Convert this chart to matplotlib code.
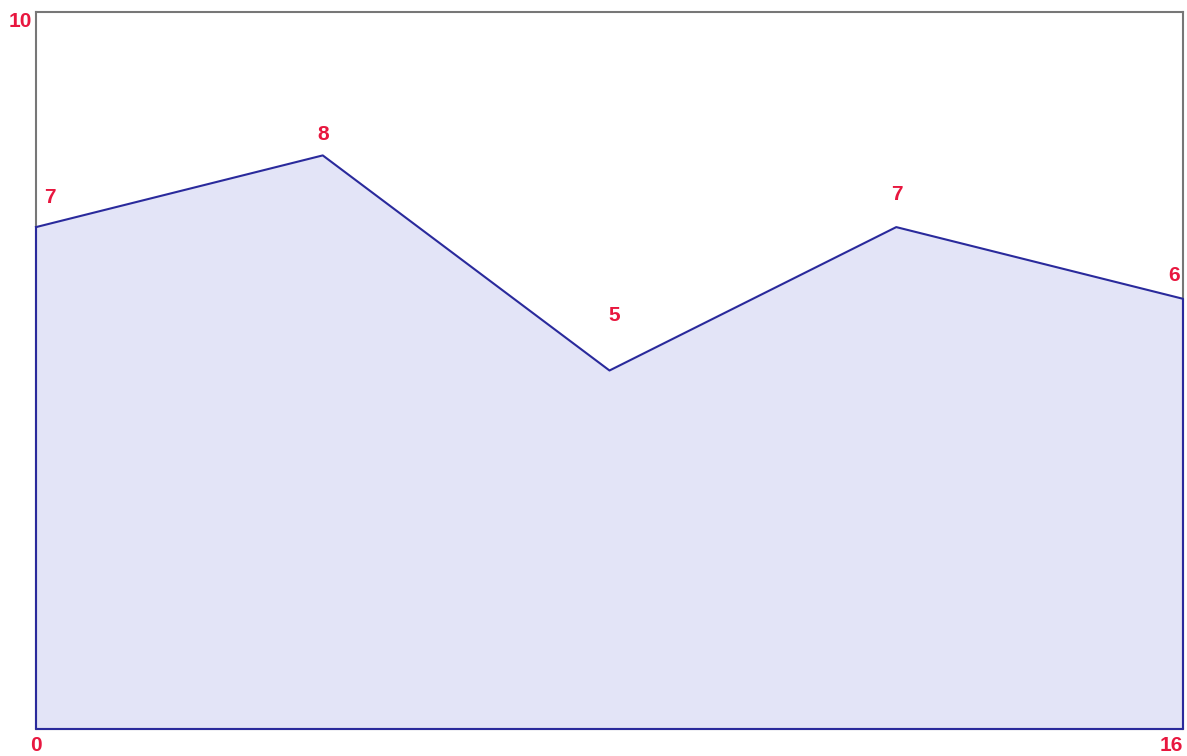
import matplotlib.pyplot as plt

# data
x_vals = [0, 4, 8, 12, 16]
y_vals = [7, 8, 5, 7, 6]
labels = ['7', '8', '5', '7', '6']

# label offsets in pixels (dx, dy) above each point
label_dx = [14, 0, 5, 1, -9]
label_dy = [30, 21, 55, 33, 23]

line_color = '#2a2a9c'
fill_color = '#e3e4f7'
text_color = '#e8173f'

plt.rcParams['font.family'] = ['Liberation Sans', 'DejaVu Sans']

fig = plt.figure(figsize=(11.87, 7.56), dpi=100)
ax = fig.add_axes([36 / 1187, 27 / 756, 1147 / 1187, 717 / 756])

ax.fill_between(x_vals, 0, y_vals, color=fill_color, zorder=1)
ax.plot(x_vals + [16, 0, 0], y_vals + [0, 0, y_vals[0]], color=line_color, lw=1.5,
        zorder=3, clip_on=False)

for x, y, lab, dx, dy in zip(x_vals, y_vals, labels, label_dx, label_dy):
    ax.annotate(lab, (x, y), xytext=(dx * 0.72, dy * 0.72), textcoords='offset points',
                ha='center', va='center', color=text_color, fontsize=15, fontweight='bold')

ax.set_xlim(0, 16)
ax.set_ylim(0, 10)
ax.set_xticks([0, 16])
ax.set_xticklabels(['0', '16'])
ax.set_yticks([10])
ax.set_yticklabels(['10'])
ax.tick_params(length=0, colors=text_color, labelsize=15)
ax.tick_params(axis='x', pad=5)
ax.tick_params(axis='y', pad=3)
for t in ax.get_xticklabels() + ax.get_yticklabels():
    t.set_fontweight('bold')
ax.get_xticklabels()[1].set_ha('right')
ax.get_yticklabels()[0].set_va('top')
for s in ax.spines.values():
    s.set_color('#777777')
    s.set_linewidth(1.5)

fig.savefig('out.png', dpi=100)
